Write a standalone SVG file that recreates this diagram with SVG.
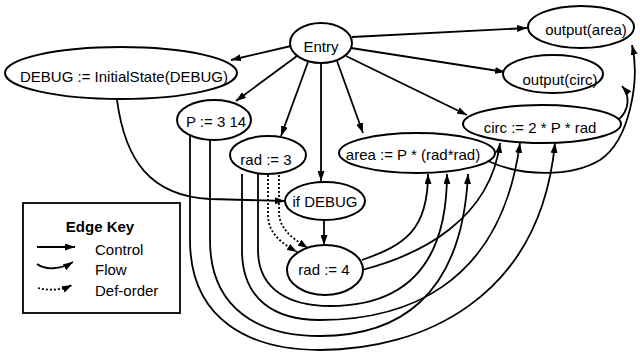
<svg xmlns="http://www.w3.org/2000/svg" width="640" height="352" viewBox="0 0 640 352">
<defs>
<marker id="ah" markerUnits="userSpaceOnUse" markerWidth="10" markerHeight="7" refX="10" refY="3.5" orient="auto">
<path d="M0,0 L10,3.5 L0,7 z" fill="#000"/>
</marker>
</defs>
<style>
.n ellipse{fill:#fff;stroke:#000;stroke-width:2}
text{font-family:"Liberation Sans",Arial,sans-serif;font-size:15px;fill:#000}
.n text{text-anchor:middle}
.e path,.e line{fill:none;stroke:#000;stroke-width:1.8;marker-end:url(#ah)}
.e .d{stroke-dasharray:2,2}
</style>
<rect width="640" height="352" fill="#fff"/>
<g class="e" id="edges">
<line x1="352" y1="37" x2="527" y2="28"/>
<line x1="351" y1="48" x2="505" y2="72"/>
<line x1="346" y1="56" x2="467" y2="115"/>
<line x1="337" y1="61" x2="363" y2="133"/>
<line x1="321" y1="63" x2="321" y2="181"/>
<line x1="308" y1="62" x2="281" y2="136"/>
<line x1="297" y1="56" x2="236" y2="101"/>
<line x1="291" y1="46" x2="231" y2="60"/>
<line x1="324" y1="220" x2="324" y2="245"/>
<path d="M117,100 C125,160 150,196 210,199 L285,201"/>
<path class="d" d="M268,175 L268,215 C268,235 285,245 297,252"/>
<path class="d" d="M279,175 L279,212 C279,230 295,240 308,248"/>
<path d="M258,174 L258,250 C258,290 290,306 330,306 C405,306 447,265 447,174"/>
<path d="M242,174 L242,250 C242,300 275,320 320,320 C400,320 500,290 520,143"/>
<path d="M210,138 L210,240 C210,310 260,336 320,336 C395,336 462,300 468,174"/>
<path d="M190,135 L190,240 C190,320 250,350 320,350 C420,350 540,300 555,143"/>
<path d="M362,260 C405,245 428,230 428,174"/>
<path d="M362,270 C420,255 490,220 500,143"/>
<path d="M618,120 C630,110 630,95 622,86"/>
<path d="M488,161 C520,176 570,178 600,160 C630,140 640,80 632,45"/>
</g>
<g class="n" id="entry"><ellipse cx="321" cy="43" rx="31" ry="20"/><text x="321" y="52">Entry</text></g>
<g class="n" id="debug"><ellipse cx="121" cy="73" rx="116" ry="26"/><text x="124" y="82">DEBUG := InitialState(DEBUG)</text></g>
<g class="n" id="p"><ellipse cx="214" cy="120" rx="37" ry="20"/><text x="216" y="127">P := 3 14</text></g>
<g class="n" id="rad3"><ellipse cx="268" cy="155" rx="38" ry="19"/><text x="266" y="165">rad := 3</text></g>
<g class="n" id="ifdebug"><ellipse cx="325" cy="201" rx="40" ry="19"/><text x="325" y="207">if DEBUG</text></g>
<g class="n" id="rad4"><ellipse cx="325" cy="270" rx="38" ry="25"/><text x="324" y="275">rad := 4</text></g>
<g class="n" id="area"><ellipse cx="417" cy="153" rx="78" ry="20"/><text x="413" y="160">area := P * (rad*rad)</text></g>
<g class="n" id="circ"><ellipse cx="542" cy="124" rx="79" ry="19"/><text x="540" y="133">circ := 2 * P * rad</text></g>
<g class="n" id="outcirc"><ellipse cx="553" cy="74" rx="50" ry="19"/><text x="560" y="85">output(circ)</text></g>
<g class="n" id="outarea"><ellipse cx="581" cy="27" rx="53" ry="21"/><text x="586" y="35">output(area)</text></g>
<g id="legend">
<rect x="23" y="203" width="157" height="110" fill="#fff" stroke="#000" stroke-width="1.8"/>
<text x="100" y="232" text-anchor="middle" font-weight="bold">Edge Key</text>
<text x="95" y="255">Control</text>
<text x="95" y="275">Flow</text>
<text x="95" y="296">Def-order</text>
<g class="e">
<line x1="37" y1="247" x2="75" y2="247"/>
<path d="M37,264 C45,270 60,270 73,262"/>
<path class="d" d="M38,288 C50,291 62,290 72,285"/>
</g>
</g>
</svg>
